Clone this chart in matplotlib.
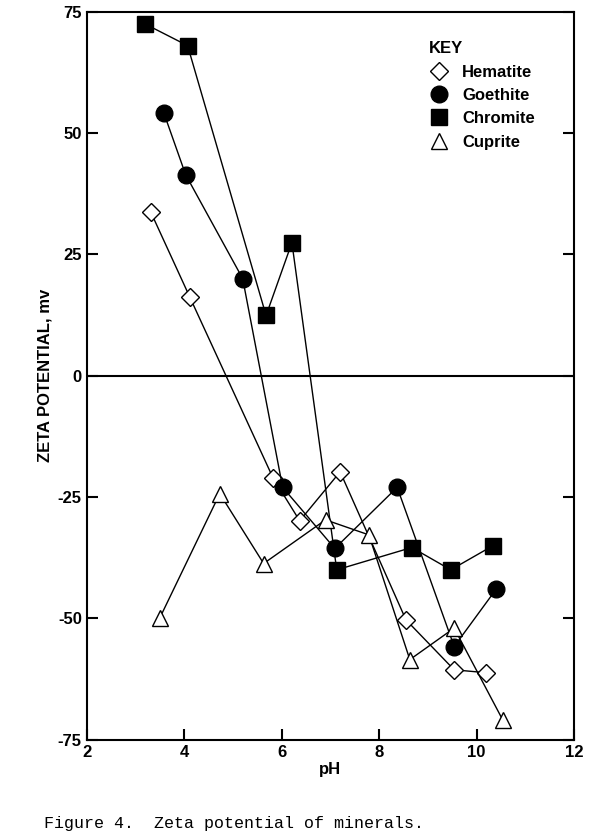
import matplotlib
matplotlib.use("Agg")
import matplotlib.pyplot as plt

hem_x = [3.31, 4.11, 5.82, 6.37, 7.2, 8.55, 9.54, 10.2]
hem_y = [33.8, 16.3, -21, -29.9, -19.8, -50.3, -60.6, -61.2]
goe_x = [3.58, 4.03, 5.2, 6.02, 7.09, 8.37, 9.54, 10.4]
goe_y = [54.2, 41.4, 20, -23, -35.6, -23, -55.8, -44]
chr_x = [3.19, 4.07, 5.68, 6.21, 7.13, 8.67, 9.47, 10.34]
chr_y = [72.5, 68, 12.4, 27.4, -40, -35.4, -40, -35]
cup_x = [3.5, 4.73, 5.63, 6.9, 7.79, 8.63, 9.54, 10.54]
cup_y = [-49.9, -24.3, -38.7, -29.7, -32.8, -58.5, -52, -71]

plt.rcParams['font.family'] = ['Liberation Sans', 'DejaVu Sans']
plt.rcParams['axes.unicode_minus'] = False
fig = plt.figure(figsize=(5.9, 8.33), dpi=100)
ax = fig.add_axes([0.147, 0.112, 0.826, 0.874])
lw = 1.0
ax.plot(hem_x, hem_y, '-', color='black', lw=lw, marker='D', ms=9, mfc='white', mec='black', mew=1.0, label='Hematite')
ax.plot(goe_x, goe_y, '-', color='black', lw=lw, marker='o', ms=12, mfc='black', label='Goethite')
ax.plot(chr_x, chr_y, '-', color='black', lw=lw, marker='s', ms=12, mfc='black', label='Chromite')
ax.plot(cup_x, cup_y, '-', color='black', lw=lw, marker='^', ms=11, mfc='white', mec='black', label='Cuprite')
ax.axhline(0, color='black', lw=1.5)
ax.set_xlim(2, 12)
ax.set_ylim(-75, 75)
ax.set_xticks([2, 4, 6, 8, 10, 12])
ax.set_yticks([75, 50, 25, 0, -25, -50, -75])
ax.tick_params(direction='in', length=8, width=1.5, labelsize=12, right=True)
for lab in ax.get_xticklabels() + ax.get_yticklabels():
    lab.set_fontweight('bold')
for s in ax.spines.values():
    s.set_linewidth(1.5)
ax.set_xlabel('pH', fontsize=12, fontweight='bold', labelpad=2)
ax.set_ylabel('ZETA POTENTIAL, mv', fontsize=12, fontweight='bold')
leg = ax.legend(title='KEY', loc='upper right', bbox_to_anchor=(0.95, 0.98), frameon=False,
                fontsize=12, title_fontsize=12, handlelength=1.2, markerfirst=True)
for h in leg.legend_handles:
    h.set_linestyle('none')
for t in leg.get_texts():
    t.set_fontweight('bold')
leg.get_title().set_fontweight('bold')
leg._legend_box.align = 'left'
fig.text(0.075, 0.006, 'Figure 4.  Zeta potential of minerals.', family='Liberation Mono', fontsize=12)
fig.savefig('out.png')
